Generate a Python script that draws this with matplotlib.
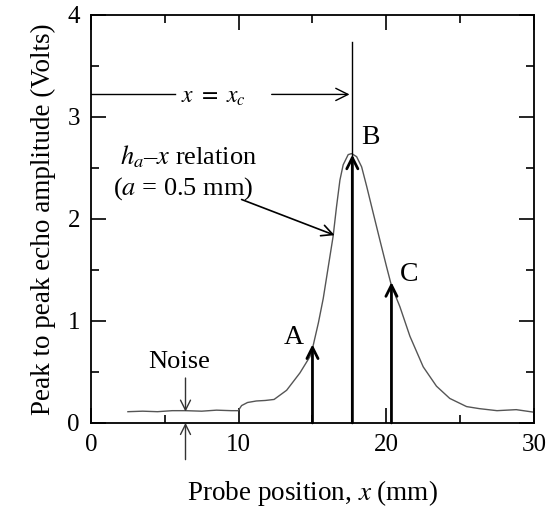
import matplotlib
matplotlib.use('Agg')
import matplotlib.pyplot as plt

plt.rcParams['font.family'] = ['Liberation Serif', 'DejaVu Serif']
plt.rcParams['mathtext.fontset'] = 'stix'

# h_a - x relation (a = 0.5 mm)
pos_mm = [2.5, 3.5, 4.5, 5.5, 6.4, 7.5, 8.5, 9.5, 9.97, 10.2, 10.6, 11.2, 11.8, 12.4,
          13.25, 14.15, 14.83, 15.05, 15.4, 15.73, 16.18, 16.4, 16.63, 16.86, 17.08,
          17.42, 17.65, 17.99, 18.33, 18.67, 19.11, 19.57, 20.02, 20.36, 20.92, 21.6,
          22.5, 23.4, 24.3, 25.44, 26.3, 27.5, 28.8, 30.0]
amp_v = [0.11, 0.115, 0.11, 0.12, 0.12, 0.115, 0.125, 0.12, 0.12, 0.17, 0.2, 0.215,
         0.22, 0.23, 0.32, 0.49, 0.65, 0.76, 0.98, 1.22, 1.63, 1.83, 2.12, 2.38, 2.53,
         2.63, 2.64, 2.61, 2.51, 2.32, 2.06, 1.79, 1.53, 1.34, 1.14, 0.85,
         0.55, 0.36, 0.24, 0.16, 0.14, 0.12, 0.13, 0.105]

# marked probe positions (A, B, C) and arrow tips
mark_names = ['A', 'B', 'C']
mark_x = [15.0, 17.7, 20.35]
mark_tip = [0.77, 2.63, 1.38]
mark_label_xy = [(13.7, 0.84), (18.9, 2.8), (21.55, 1.45)]

x_c = 17.7
noise_x = 6.4

fig = plt.figure(figsize=(5.55, 5.12), dpi=100)
ax = fig.add_axes([0.164, 0.174, 0.798, 0.797])

ax.plot(pos_mm, amp_v, color='#555555', lw=1.0)

# x = x_c vertical line and horizontal arrow
ax.plot([x_c, x_c], [0, 3.73], color='black', lw=1.0)
ax.plot([0, 5.7], [3.22, 3.22], color='black', lw=1.0)
ax.annotate('', xy=(x_c, 3.22), xytext=(12.05, 3.22),
            arrowprops=dict(arrowstyle='->', color='black', lw=1.0,
                            mutation_scale=22))
ax.text(8.3, 3.19, r'$x\ =\ x_c$', fontsize=17, ha='center', va='center')

# thick arrows A, B, C
for name, mx, tip, (lx, ly) in zip(mark_names, mark_x, mark_tip, mark_label_xy):
    ax.annotate('', xy=(mx, tip), xytext=(mx, 0),
                arrowprops=dict(arrowstyle='->', color='black', lw=2.0,
                                mutation_scale=20, shrinkA=0, shrinkB=0))
    ax.text(lx, ly, name, fontsize=20, ha='center', va='center')

# curve label
ax.text(1.95, 2.61, r'$h_a$–$x$ relation', fontsize=19, ha='left', va='center')
ax.text(1.5, 2.30, r'($a$ = 0.5 mm)', fontsize=19, ha='left', va='center')
ax.annotate('', xy=(16.5, 1.84), xytext=(10.2, 2.19),
            arrowprops=dict(arrowstyle='->', color='black', lw=1.2,
                            mutation_scale=20, shrinkA=0, shrinkB=0))

# noise marker
ax.text(6.0, 0.6, 'Noise', fontsize=19, ha='center', va='center')
ax.annotate('', xy=(noise_x, 0.11), xytext=(noise_x, 0.44),
            arrowprops=dict(arrowstyle='->', color='#333333', lw=1.0,
                            mutation_scale=18, shrinkA=0, shrinkB=0))
ax.annotate('', xy=(noise_x, 0.0), xytext=(noise_x, -0.36),
            arrowprops=dict(arrowstyle='->', color='#333333', lw=1.0,
                            mutation_scale=18, shrinkA=0, shrinkB=0),
            annotation_clip=False)

ax.set_xlim(0, 30)
ax.set_ylim(0, 4)
ax.set_xticks([0, 10, 20, 30])
ax.set_xticks([5, 15, 25], minor=True)
ax.set_yticks([0, 1, 2, 3, 4])
ax.set_yticks([0.5, 1.5, 2.5, 3.5], minor=True)
ax.tick_params(which='both', direction='in', top=True, right=True,
               labelsize=18, width=1.2, pad=8)
ax.tick_params(which='major', length=11)
ax.tick_params(which='minor', length=6)
for s in ax.spines.values():
    s.set_linewidth(1.3)

ax.set_xlabel(r'Probe position, $x$ (mm)', fontsize=19.5, labelpad=16)
ax.set_ylabel('Peak to peak echo amplitude (Volts)', fontsize=19.5, labelpad=8)

fig.savefig('out.png', dpi=100)
